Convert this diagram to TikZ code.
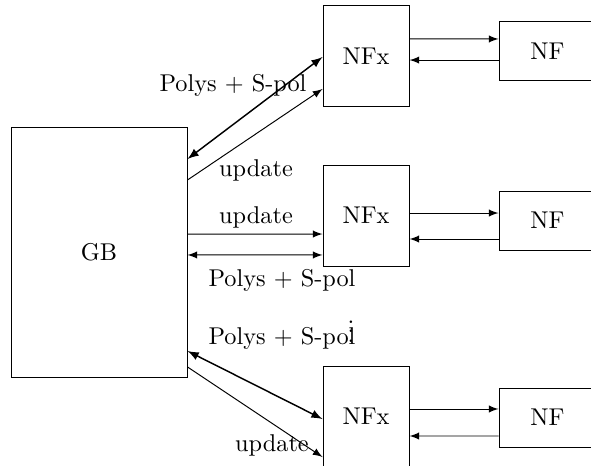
\documentclass[tikz,border=0pt]{standalone}
\usepackage{amsmath,amssymb}
\usepackage{tikz}
\usetikzlibrary{arrows.meta,positioning,calc}

\begin{document}
\begin{tikzpicture}[
  >=latex,
  gbbox/.style={draw,minimum width=2.547cm,minimum height=3.618cm},
  nfxbox/.style={draw,minimum width=1.245cm,minimum height=1.462cm},
  nfbox/.style={draw,minimum width=1.4cm,minimum height=0.854cm},
  both/.style={<->,semithick},
  lbl/.style={inner sep=1pt}]
\useasboundingbox (0,0) rectangle (8.553,6.744);
\node[gbbox] (GB) at (1.433,3.097) {GB};
\node[nfxbox] (NFx1) at (5.297,5.934) {NFx};
\node[nfxbox] (NFx2) at (5.297,3.625) {NFx};
\node[nfxbox] (NFx3) at (5.297,0.716) {NFx};
\node[nfbox,right=1.288cm of NFx1,yshift=0.66mm] (NF1) {NF};
\node[nfbox,right=1.288cm of NFx2,yshift=-0.72mm] (NF2) {NF};
\node[nfbox,right=1.288cm of NFx3,yshift=-0.14mm] (NF3) {NF};
% NFx <-> NF
\draw[->] ([yshift=2.46mm]NFx1.east) -- ([yshift=1.8mm]NF1.west);
\draw[->] ([yshift=-1.25mm]NF1.west) -- ([yshift=-0.59mm]NFx1.east);
\draw[->] ([yshift=0.36mm]NFx2.east) -- ([yshift=1.08mm]NF2.west);
\draw[->] ([yshift=-2.68mm]NF2.west) -- ([yshift=-3.4mm]NFx2.east);
\draw[->] ([yshift=1.09mm]NFx3.east) -- ([yshift=1.23mm]NF3.west);
\draw[->] ([yshift=-2.68mm]NF3.west) -- ([yshift=-2.82mm]NFx3.east);
% GB <-> NFx
\draw[both] ([yshift=13.46mm]GB.east) -- ([yshift=-0.15mm]NFx1.west);
\draw[->] ([yshift=10.42mm]GB.east) -- ([yshift=-4.78mm]NFx1.west);
\draw[->] ([yshift=2.6mm]GB.east) -- ([yshift=-2.68mm]NFx2.west);
\draw[both,thin] ([yshift=-0.43mm]GB.east) -- ([yshift=-5.71mm]NFx2.west);
\draw[both] ([yshift=-14.33mm]GB.east) -- ([yshift=-0.36mm]NFx3.west);
\draw[->] ([yshift=-16.64mm]GB.east) -- ([yshift=-5.86mm]NFx3.west);
% labels
\node[lbl] (p1) at (3.372,5.514) {Polys + S-pol};
\node[lbl] (u1) at (3.705,4.284) {update};
\node[lbl] (u2) at (3.705,3.603) {update};
\node[lbl] (p2) at (4.081,2.692) {Polys + S-pol};
\node[lbl] (p3) at (4.081,1.852) {Polys + S-pol};
\node[lbl] (u3) at (3.936,0.304) {update};
\node[lbl] (dots) at (5.08,2.05) {$\vdots$};
\end{tikzpicture}
\end{document}
